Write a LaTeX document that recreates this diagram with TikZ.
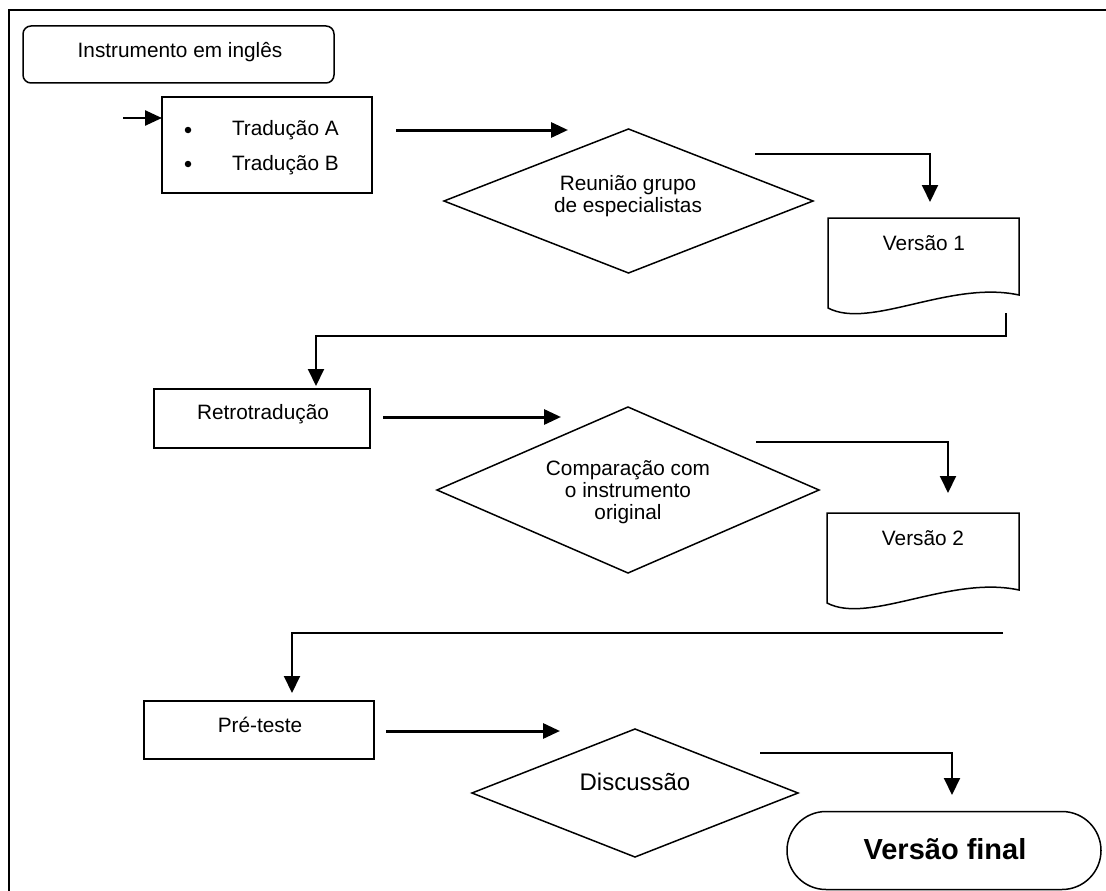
\documentclass[tikz,border=0pt]{standalone}
\usepackage{fontspec}
\setmainfont{Liberation Sans}
\usetikzlibrary{arrows.meta,calc,shapes.geometric}
\begin{document}
\begin{tikzpicture}[x=1pt,y=-1pt,
  every node/.style={font=\fontsize{20.8}{22}\selectfont, inner sep=0pt, outer sep=0pt},
  frame/.style={line width=2pt},
  sbox/.style={draw, line width=1.5pt},
  rbox/.style={draw, line width=1.5pt, rounded corners=8pt},
  dia/.style={draw, diamond, line width=1.5pt},
  docline/.style={line width=1.5pt, line join=miter},
  bul/.style={circle, fill, minimum size=6.5pt},
  harr/.style={line width=3pt, -{Triangle[length=17pt,width=15pt]}},
  varr/.style={line width=2pt, -{Triangle[length=17pt,width=16pt]}},
  big/.style={font=\fontsize{24}{26}\selectfont},
  huge/.style={font=\fontsize{29}{32}\selectfont\bfseries}
]
\fill[white] (0,0) rectangle (1106,891);
\useasboundingbox (0,0) rectangle (1106,891);
% frame
\draw[frame] (9,891) -- (9,10) -- (1106,10);

% Instrumento em ingles
\node[rbox, minimum width=311pt, minimum height=57pt] (ing) at (178.5,54.5) {};
\node (ingt) at (180,52) {Instrumento em inglês};

% Traducoes
\node[sbox, minimum width=210pt, minimum height=96pt] (tr) at (267,145) {};
\node[bul] (bA) at (188,130) {};
\node[bul] (bB) at (188,164) {};
\node[anchor=west] (tA) at (232,130) {Tradução A};
\node[anchor=west] (tB) at (232,165) {Tradução B};
\coordinate (inS) at (123,118);
\draw[harr, line width=2.5pt] (inS) -- (inS -| tr.west);

% arrow to diamond 1
\coordinate (a1s) at (396,130);
\coordinate (a1e) at (568,130);
\draw[harr] (a1s) -- (a1e);

% diamond 1
\node[dia, minimum width=369pt, minimum height=144pt] (d1) at (628.5,201) {};
\node[align=center] (d1t) at (628,196) {Reunião grupo\\de especialistas};

% connector to Versao 1
\coordinate (c1s) at (755,154);
\coordinate (c1e) at (930,202);
\draw[varr] (c1s) -| (c1e);

% Versao 1 document
\node[minimum width=191pt, minimum height=77pt] (v1) at (923.5,256.5) {};
\draw[docline] (v1.south east) -- (v1.north east) -- (v1.north west) -- ($(v1.south west)+(0,13)$)
  .. controls ($(v1.south west)+(42,35)$) and ($(v1.south east)+(-69,-15)$) .. (v1.south east) -- cycle;
\node (v1t) at (924,243) {Versão 1};

% connector to Retrotraducao
\coordinate (c2s) at (1006,313);
\coordinate (c2m) at (1006,336);
\coordinate (c2e) at (316,386);
\draw[varr] (c2s) -- (c2m) -| (c2e);

% Retrotraducao
\node[sbox, minimum width=216pt, minimum height=59pt] (rt) at (262,418.5) {};
\node (rtt) at (263,414) {Retrotradução};
\coordinate (a2s) at (383,417);
\coordinate (a2e) at (561,417);
\draw[harr] (a2s) -- (a2e);

% diamond 2
\node[dia, minimum width=382pt, minimum height=166pt] (d2) at (628,490) {};
\node[align=center] (d2t) at (628,492) {Comparação com\\o instrumento\\original};

% connector to Versao 2
\coordinate (c3s) at (756,442);
\coordinate (c3e) at (948,493);
\draw[varr] (c3s) -| (c3e);

% Versao 2 document
\node[minimum width=192pt, minimum height=77pt] (v2) at (923,551.5) {};
\draw[docline] (v2.south east) -- (v2.north east) -- (v2.north west) -- ($(v2.south west)+(0,13)$)
  .. controls ($(v2.south west)+(42,35)$) and ($(v2.south east)+(-69,-15)$) .. (v2.south east) -- cycle;
\node (v2t) at (923,538) {Versão 2};

% connector to Pre-teste
\coordinate (c4s) at (1003,633);
\coordinate (c4e) at (292,693);
\draw[varr] (c4s) -| (c4e);

% Pre-teste
\node[sbox, minimum width=230pt, minimum height=58pt] (pt) at (259,730) {};
\node (ptt) at (260,725) {Pré-teste};
\coordinate (a3s) at (386,731);
\coordinate (a3e) at (560,731);
\draw[harr] (a3s) -- (a3e);

% diamond 3
\node[dia, minimum width=326pt, minimum height=128pt] (d3) at (635,793) {};
\node[big] (d3t) at (635,782) {Discussão};

% connector to Versao final
\coordinate (c5s) at (760,753);
\coordinate (c5e) at (952,795);
\draw[varr] (c5s) -| (c5e);

% Versao final
\node[draw, line width=1.5pt, rounded corners=39pt, minimum width=314pt, minimum height=78pt] (vf) at (944,850.5) {};
\node[huge] (vft) at (945,849) {Versão final};
\end{tikzpicture}
\end{document}
